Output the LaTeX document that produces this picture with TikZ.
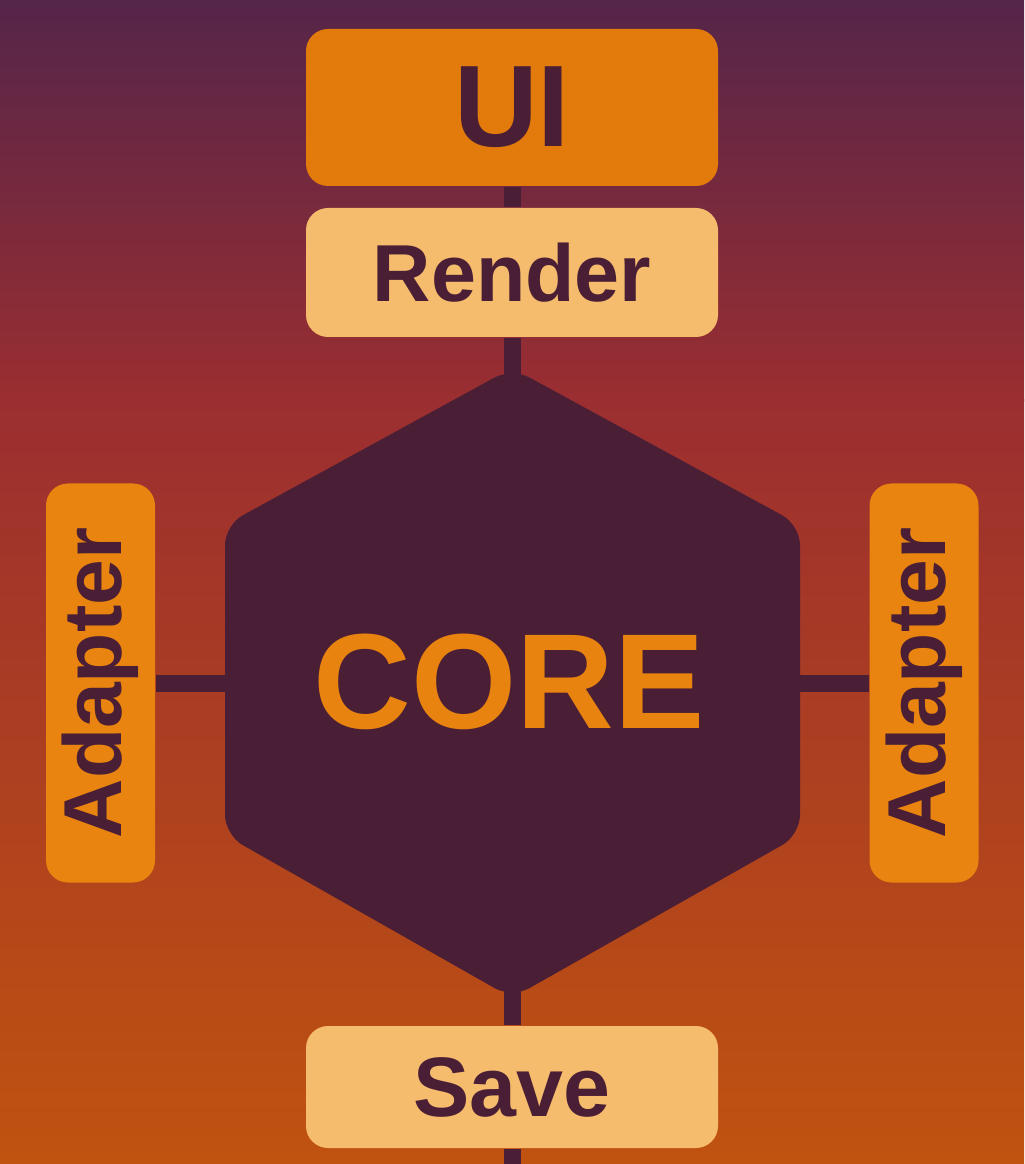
\documentclass[tikz,border=0pt]{standalone}
\usepackage{fontspec}
\setmainfont{Liberation Sans}
\definecolor{plum}{HTML}{4A1F35}
\definecolor{bgtop}{HTML}{55254A}
\definecolor{bgmid}{HTML}{9B2E30}
\definecolor{bgbot}{HTML}{C0530F}
\definecolor{uiorange}{HTML}{E27A0C}
\definecolor{sand}{HTML}{F4BC6C}
\definecolor{adorange}{HTML}{E8840F}
\definecolor{coreorange}{HTML}{E8830F}

\begin{document}
\begin{tikzpicture}[
    box/.style={rounded corners=0.22cm, minimum width=4.12cm, inner sep=0pt, text=plum},
    adapterbox/.style={box, fill=adorange, rotate=90, minimum width=3.99cm, minimum height=1.09cm,
      font=\bfseries\fontsize{23.4}{24}\selectfont},
    link/.style={draw=plum, line width=0.17cm},
  ]
    \useasboundingbox (0,0) rectangle (10.24,-11.64);
    \shade[top color=bgtop, bottom color=bgmid] (0,0) rectangle (10.24,-4.02);
    \shade[top color=bgmid, bottom color=bgbot] (0,-4) rectangle (10.24,-11.64);

    % hexagon corners
    \path (5.12,-3.68) coordinate(hexN);
    \path (5.12,-9.98) coordinate(hexS);
    \path (2.30,-6.83) coordinate(hexW);
    \path (7.95,-6.83) coordinate(hexE);
    \path (5.12,-11.64) coordinate(bottom);
    \fill[plum, rounded corners=0.2cm] (hexN) -- (8.00,-5.25) -- (8.00,-8.35) -- (hexS)
      -- (2.25,-8.35) -- (2.25,-5.25) -- cycle;
    \path (5.09,-6.815) node(core)[text=coreorange, font=\bfseries\fontsize{38.5}{40}\selectfont] {CORE};

    \path (5.12,-1.075) node(ui)[box, fill=uiorange, minimum height=1.57cm,
      font=\bfseries\fontsize{33}{34}\selectfont] {UI};
    \path (5.12,-2.725) node(render)[box, fill=sand, minimum height=1.29cm,
      font=\bfseries\fontsize{23}{24}\selectfont] {Render};
    \path (5.12,-10.87) node(save)[box, fill=sand, minimum height=1.22cm,
      font=\bfseries\fontsize{24}{25}\selectfont] {Save};
    \path (1.005,-6.83) node(adapterL)[adapterbox] {Adapter};
    \path (9.24,-6.83) node(adapterR)[adapterbox] {Adapter};

    \path (ui) edge[link] (render);
    \path (render) edge[link] ([yshift=-0.25cm]hexN);
    \path ([yshift=0.25cm]hexS) edge[link] (save);
    \path (save) edge[link] (bottom);
    \path (adapterL) edge[link] (hexW);
    \path (hexE) edge[link] (adapterR);
\end{tikzpicture}
\end{document}
